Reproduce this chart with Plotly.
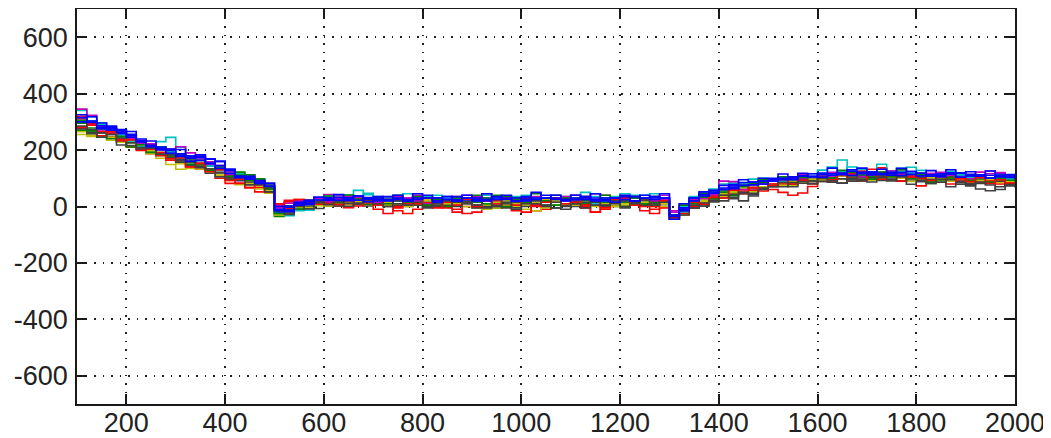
import plotly.graph_objects as go

# sample positions along the x axis
x = list(range(100, 2001, 20))

x_tick_vals = [200, 400, 600, 800, 1000, 1200, 1400, 1600, 1800, 2000]
x_tick_text = ["200", "400", "600", "800", "1000", "1200", "1400", "1600", "1800", "2000"]
y_tick_vals = [-600, -400, -200, 0, 200, 400, 600]
y_tick_text = ["-600", "-400", "-200", "0", "200", "400", "600"]

g1 = [270,263,261,245,243,236,214,207,206,189,
      172,155,148,143,135,117,97,97,92,67,
      -30,-13,5,17,13,12,22,31,27,22,
      25,30,20,10,5,15,20,25,30,20,
      15,5,-5,10,20,30,25,15,20,25,
      30,20,10,15,25,35,30,20,15,10,
      -40,-10,15,32,47,50,48,60,77,90,
      90,85,85,93,101,109,116,108,105,101,
      107,112,116,120,109,98,87,91,100,104,
      108,97,91,100,93,87]
r1 = [320,303,281,260,238,231,209,187,181,179,
      157,140,133,128,100,82,82,82,67,67,
      5,17,20,17,13,12,2,-4,7,17,
      20,5,-15,-25,-10,15,25,10,-10,-25,
      -20,-5,20,35,25,5,-15,-10,15,25,
      20,0,-20,-10,15,30,10,-15,-25,0,
      -35,-20,-5,12,32,45,43,45,57,70,
      60,50,40,48,71,94,101,113,120,126,
      117,112,121,125,109,73,97,111,100,104,
      103,107,96,90,78,72]
c1 = [340,318,291,275,253,236,219,217,230,245,
      210,175,153,143,140,122,107,102,97,77,
      0,-13,-15,-13,8,22,32,41,57,42,
      30,25,35,45,30,20,15,25,30,25,
      20,10,15,25,35,40,30,20,15,25,
      40,50,35,25,15,20,30,40,45,30,
      -30,0,35,42,62,80,83,75,77,80,
      75,75,90,103,116,129,140,165,125,116,
      112,107,116,125,139,128,112,106,115,109,
      113,102,96,105,108,112]
m1 = [345,323,286,270,243,241,224,207,206,204,
      212,190,168,148,130,122,117,112,92,72,
      5,12,10,12,28,42,37,26,17,22,
      25,15,20,30,40,35,25,15,20,30,
      35,25,15,10,20,30,35,25,15,20,
      25,35,45,40,30,20,15,25,35,40,
      -15,-5,10,37,57,90,88,80,77,80,
      80,90,105,113,106,99,106,118,125,116,
      122,132,126,115,104,108,117,111,100,104,
      113,122,126,115,103,107]
y1 = [255,253,251,235,233,231,214,187,171,149,
      132,135,133,123,115,92,77,77,72,57,
      -20,-8,-5,-3,13,22,12,6,17,12,
      15,5,0,10,20,25,15,5,10,20,
      0,-10,-5,5,0,-10,-15,-5,5,10,
      15,10,0,-5,5,10,15,5,0,10,
      -45,-20,0,17,32,35,53,65,62,65,
      80,80,90,98,91,99,91,98,110,116,
      102,97,106,110,114,103,92,96,100,94,
      98,102,91,95,83,92]
k1 = [285,263,246,245,243,226,219,197,181,174,
      167,160,138,118,120,107,92,77,77,62,
      -25,-18,-5,-8,-7,2,12,16,7,2,
      5,15,10,0,5,10,0,5,15,10,
      5,-5,0,10,15,5,10,0,-5,5,
      0,5,15,10,0,-5,5,10,5,0,
      -30,-25,-5,12,17,20,28,20,37,65,
      75,75,75,83,91,89,86,83,95,101,
      97,92,101,105,94,88,97,101,90,79,
      83,62,56,70,78,72]
b1 = [305,288,286,280,258,251,229,222,201,194,
      187,170,173,168,160,132,112,97,82,67,
      -20,-3,15,17,18,32,27,21,27,32,
      25,20,30,25,15,20,30,35,25,20,
      25,30,20,15,25,30,25,20,30,25,
      20,25,30,20,25,35,30,25,20,15,
      -40,-10,25,47,52,65,78,75,77,90,
      90,100,100,98,106,114,111,108,115,121,
      117,112,116,120,114,108,112,116,120,114,
      108,102,111,115,103,97]
g2 = [295,278,276,270,248,226,219,212,191,184,
      182,165,143,133,130,112,112,112,97,77,
      -35,-13,0,12,23,17,12,16,27,22,
      10,15,25,20,10,5,15,25,20,15,
      20,30,40,35,25,15,10,20,30,25,
      15,10,20,30,25,15,5,10,20,25,
      -30,-15,20,37,37,40,58,70,82,85,
      95,95,95,108,106,99,96,113,120,111,
      107,102,111,115,104,93,82,96,105,99,
      103,92,96,105,98,92]
r2 = [310,288,266,245,228,211,204,202,181,164,
      162,160,153,128,120,102,82,67,52,52,
      10,22,25,22,23,17,7,11,22,12,
      -10,-25,-5,10,30,35,15,-5,-20,0,
      30,45,20,0,-15,-20,5,25,40,30,
      15,-5,-20,0,25,35,20,0,-10,-5,
      -45,-30,0,22,37,40,43,55,67,70,
      80,80,80,93,101,99,96,108,115,121,
      132,137,121,110,104,98,107,111,100,94,
      98,87,91,80,83,87]
c2 = [305,303,296,275,248,231,214,212,211,194,
      172,165,163,143,120,117,117,102,82,82,
      -25,-33,-10,7,23,37,32,26,37,47,
      35,30,20,15,25,35,40,30,20,25,
      30,40,30,15,5,10,20,30,40,35,
      25,15,10,20,35,45,40,30,25,20,
      -45,-20,20,42,57,60,63,80,97,100,
      95,90,80,88,101,114,111,123,140,131,
      122,150,126,135,119,108,102,116,125,114,
      103,107,116,110,98,102]
m2 = [315,293,271,265,263,246,224,222,201,184,
      182,180,178,158,145,112,92,92,87,82,
      -5,2,20,22,18,17,27,36,32,17,
      15,25,35,30,20,10,15,25,35,40,
      30,20,15,25,30,20,10,15,25,35,
      40,30,20,10,15,25,35,30,20,25,
      -20,10,25,27,42,60,63,60,62,80,
      90,105,105,98,96,109,121,118,110,106,
      112,122,126,115,104,108,117,121,110,104,
      98,107,116,120,108,102]
y2 = [265,248,246,245,228,226,219,197,191,169,
      152,145,143,133,110,102,97,82,62,47,
      -30,-23,-5,7,3,2,7,16,12,7,
      10,15,5,0,10,20,15,10,5,0,
      -5,5,15,20,10,5,15,25,20,10,
      5,15,20,10,0,5,10,15,5,0,
      -40,-30,5,22,27,45,48,50,52,70,
      75,75,75,88,96,94,101,108,100,96,
      92,97,106,100,89,93,102,96,90,99,
      88,92,96,85,88,77]
k2 = [275,258,261,255,233,216,209,207,186,169,
      162,145,143,133,120,97,92,87,82,67,
      -15,-23,-10,2,13,7,2,11,22,17,
      10,0,5,15,10,0,5,15,20,10,
      -5,0,5,-5,-10,0,10,5,-5,-10,
      10,15,5,0,10,20,15,5,10,15,
      -45,-15,-5,2,17,30,43,45,47,65,
      70,70,85,93,91,89,101,98,90,96,
      102,107,96,90,99,103,92,86,95,89,
      78,82,86,90,73,82]
g3 = [305,268,276,240,248,211,219,192,211,179,
      182,150,163,128,140,107,122,92,97,62,
      -25,2,-10,22,8,37,17,41,22,7,
      30,10,40,15,35,5,25,0,30,15,
      40,10,25,0,30,15,45,20,5,30,
      10,35,15,40,20,0,30,10,35,15,
      -45,5,10,47,27,55,38,75,67,95,
      75,105,80,103,81,114,101,128,100,116,
      97,122,106,130,99,113,87,116,100,119,
      93,107,86,110,93,82]
r3 = [280,293,251,265,233,236,199,217,191,169,
      172,140,153,123,130,92,97,67,77,52,
      10,-8,25,12,8,27,7,21,2,17,
      5,25,0,20,10,30,-5,15,5,25,
      0,20,10,30,5,25,0,15,30,10,
      25,5,20,-5,15,30,5,25,0,20,
      -40,-25,15,7,32,30,58,50,67,55,
      75,95,80,93,81,104,91,113,100,91,
      112,97,116,90,104,118,92,106,80,99,
      88,102,81,95,83,72]
k3 = [300,273,246,255,218,226,204,212,186,184,
      157,165,138,133,105,102,102,77,77,52,
      -15,-28,0,-8,18,7,17,1,12,22,
      10,0,20,5,15,-5,10,20,0,15,
      5,25,0,15,-5,10,20,5,15,0,
      10,-5,15,5,20,0,10,25,5,15,
      -35,-30,5,2,22,40,33,50,42,60,
      70,85,70,88,81,99,91,83,100,91,
      87,102,91,105,79,93,82,96,70,84,
      73,87,76,60,78,67]
b2 = [300,298,296,275,268,246,239,217,211,189,
      182,180,178,168,145,127,107,102,87,72,
      -15,2,5,22,33,27,22,31,37,27,
      30,35,25,20,30,40,30,25,35,30,
      20,25,35,30,20,25,30,40,30,25,
      30,35,25,20,30,40,35,30,35,30,
      -35,-5,30,37,57,60,73,85,87,90,
      95,95,95,108,116,114,111,118,125,116,
      122,117,111,120,124,118,112,106,115,119,
      113,107,101,110,103,97]
b3 = [325,303,276,270,273,256,234,212,206,199,
      177,160,163,153,135,117,102,97,92,72,
      -10,-13,10,12,23,22,32,26,22,27,
      20,25,30,20,25,30,20,25,20,30,
      25,20,30,25,30,20,25,30,25,20,
      25,30,20,25,30,25,20,30,25,30,
      -45,-15,20,42,47,60,63,75,77,80,
      90,100,100,108,106,104,116,113,110,121,
      112,117,121,110,114,118,107,111,115,104,
      108,112,101,105,108,97]
b4 = [315,318,281,285,263,266,229,232,201,204,
      202,175,183,153,160,132,107,107,82,82,
      0,-18,15,7,33,27,42,21,37,17,
      35,20,40,25,45,30,15,35,20,40,
      30,45,25,40,20,35,50,30,40,25,
      40,25,45,30,15,35,20,40,30,45,
      -30,10,30,52,47,75,68,95,87,100,
      100,115,105,118,106,119,136,118,130,136,
      122,132,116,135,124,108,127,116,130,119,
      123,107,126,110,113,107]

BLUE, GREEN, RED = "#0000ff", "#008000", "#ff0000"
CYAN, MAGENTA, YELLOW, BLACK = "#00bfbf", "#bf00bf", "#bfbf00", "#404040"

series = [
    (g1, GREEN), (r1, RED), (c1, CYAN), (m1, MAGENTA), (y1, YELLOW), (k1, BLACK), (b1, BLUE),
    (g2, GREEN), (r2, RED), (c2, CYAN), (m2, MAGENTA), (y2, YELLOW), (k2, BLACK),
    (g3, GREEN), (r3, RED), (k3, BLACK),
    (b2, BLUE), (b3, BLUE), (b4, BLUE),
]

fig = go.Figure()
for ys, col in series:
    fig.add_trace(go.Scatter(
        x=x, y=ys, mode="lines",
        line=dict(color=col, width=1.6, shape="hv"),
        showlegend=False, hoverinfo="skip",
    ))

axis_common = dict(
    showline=True, linecolor="#1a1a1a", linewidth=1.5, mirror="allticks",
    ticks="inside", ticklen=10, tickwidth=1.5, tickcolor="#1a1a1a",
    showgrid=True, gridcolor="#222222", gridwidth=1.5, griddash="1.5px,7px",
    zeroline=False, automargin=False,
    tickfont=dict(family="Liberation Sans, Arial, sans-serif", size=27, color="#222222"),
)

# the page body adds an 8px offset, so the figure is sized to fit inside the window
fig.update_layout(
    width=1043, height=430,
    margin=dict(l=69, r=36, t=1, b=34),
    paper_bgcolor="white", plot_bgcolor="white",
    xaxis=dict(range=[100, 2000], tickvals=x_tick_vals, ticktext=x_tick_text,
               ticklabelstandoff=-6, **axis_common),
    yaxis=dict(range=[-700, 700], tickvals=y_tick_vals, ticktext=y_tick_text,
               ticklabelstandoff=2, **axis_common),
)

fig.write_html("out.html")
